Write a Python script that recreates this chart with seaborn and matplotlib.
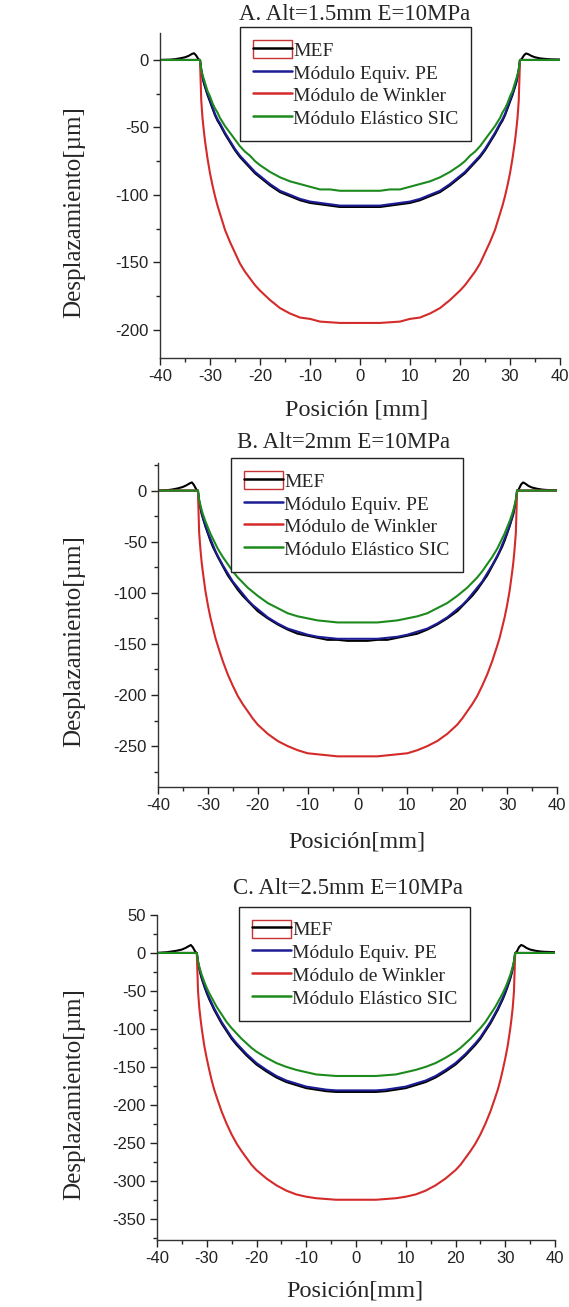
import matplotlib
matplotlib.use("Agg")
import matplotlib.pyplot as plt
import pandas as pd
import seaborn as sns
from matplotlib.patches import Rectangle
from matplotlib.lines import Line2D
from matplotlib.legend_handler import HandlerTuple
from matplotlib.ticker import MultipleLocator

sns.set_style("ticks")
plt.rcParams["font.family"] = ["Liberation Sans", "DejaVu Sans"]
plt.rcParams["axes.unicode_minus"] = False
SERIF = ["Liberation Serif", "DejaVu Serif"]

# ---------------------------------------------------------------- data
# positions [mm] shared by the three analytical models
pos = [-40, -32, -31.75, -31.5, -31.25, -31, -30.5, -30, -29.5, -29, -28.5, -28, -27, -26,
       -25, -24, -23, -22, -21, -20, -18, -16, -14, -12, -10, -8, -6, -4, -2,
       0,
       2, 4, 6, 8, 10, 12, 14, 16, 18, 20, 21, 22, 23, 24, 25,
       26, 27, 28, 28.5, 29, 29.5, 30, 30.5, 31, 31.25, 31.5, 31.75, 32, 40]

# positions [mm] of the finite element (MEF) solution
pos_mef = [-40, -38, -37, -36, -35, -34.3, -33.6, -33.2, -32.8, -32.3,
           -32, -31.75, -31.5, -31.25, -31, -30.5, -30, -29.5, -29, -28.5, -28, -27, -26,
           -25, -24, -23, -22, -21, -20, -18, -16, -14, -12, -10, -8, -6, -4, -2,
           0,
           2, 4, 6, 8, 10, 12, 14, 16, 18, 20, 21, 22, 23, 24, 25,
           26, 27, 28, 28.5, 29, 29.5, 30, 30.5, 31, 31.25, 31.5, 31.75, 32,
           32.3, 32.8, 33.2, 33.6, 34.3, 35, 36, 37, 38, 40]

# A. Alt = 1.5 mm  [µm]
mef_a = [0, 0.2, 0.6, 1.2, 2.0, 3.0, 4.5, 5.0, 3.5, 0.5,
         0, -8, -13, -17, -20, -26, -31, -36, -41, -45, -48, -55, -61,
         -67, -72, -76, -80, -84, -87, -93, -98, -101, -104, -106, -107, -108, -109, -109,
         -109,
         -109, -109, -108, -107, -106, -104, -101, -98, -93, -87, -84, -80, -76, -72, -67,
         -61, -55, -48, -45, -41, -36, -31, -26, -20, -17, -13, -8, 0,
         0.5, 3.5, 4.8, 4.4, 3.0, 2.0, 1.2, 0.8, 0.5, 0.3]
pe_a = [0, 0, -7, -12, -16, -19, -25, -30, -35, -40, -44, -47, -54, -60,
        -66, -71, -75, -79, -83, -86, -92, -97, -100, -103, -105, -106, -107, -108, -108,
        -108,
        -108, -108, -107, -106, -105, -103, -100, -97, -92, -86, -83, -79, -75, -71, -66,
        -60, -54, -47, -44, -40, -35, -30, -25, -19, -16, -12, -7, 0, 0]
wink_a = [0, 0, -30, -43, -52, -60, -73, -84, -93, -101, -108, -114, -126, -135,
          -143, -151, -157, -162, -167, -171, -178, -184, -188, -191, -192, -194, -194.5, -195, -195,
          -195,
          -195, -195, -194.5, -194, -192, -191, -188, -184, -178, -171, -167, -162, -157, -151, -143,
          -135, -126, -114, -108, -101, -93, -84, -73, -60, -52, -43, -30, 0, 0]
sic_a = [0, 0, -7, -11, -14, -17, -23, -27, -32, -36, -39, -43, -49, -54,
         -59, -64, -68, -71, -75, -78, -83, -87, -90, -92, -94, -96, -96, -97, -97,
         -97,
         -97, -97, -96, -96, -94, -92, -90, -87, -83, -78, -75, -71, -68, -64, -59,
         -54, -49, -43, -39, -36, -32, -27, -23, -17, -14, -11, -7, 0, 0]

# B. Alt = 2 mm  [µm]
mef_b = [0, 0.5, 1.2, 2.2, 3.6, 5.2, 7.2, 8.0, 5.5, 1.0,
         0, -11, -17, -23, -27, -35, -42, -49, -55, -60, -65, -74, -83,
         -90, -97, -103, -108, -113, -118, -125, -131, -136, -140, -142, -144, -146, -146, -147,
         -147,
         -147, -146, -146, -144, -142, -140, -136, -131, -125, -118, -113, -108, -103, -97, -90,
         -83, -74, -65, -60, -55, -49, -42, -35, -27, -23, -17, -11, 0,
         1.0, 6.0, 8.0, 7.0, 4.5, 3.0, 1.8, 1.0, 0.6, 0.3]
pe_b = [0, 0, -10, -16, -21, -26, -34, -41, -47, -53, -59, -64, -73, -81,
        -89, -95, -101, -107, -112, -116, -124, -130, -135, -138, -141, -143, -144, -145, -145,
        -145,
        -145, -145, -144, -143, -141, -138, -135, -130, -124, -116, -112, -107, -101, -95, -89,
        -81, -73, -64, -59, -53, -47, -41, -34, -26, -21, -16, -10, 0, 0]
wink_b = [0, 0, -41, -57, -70, -80, -98, -112, -124, -134, -144, -152, -167, -180,
          -191, -201, -209, -216, -223, -229, -238, -245, -250, -254, -257, -258, -259, -260, -260,
          -260,
          -260, -260, -259, -258, -257, -254, -250, -245, -238, -229, -223, -216, -209, -201, -191,
          -180, -167, -152, -144, -134, -124, -112, -98, -80, -70, -57, -41, 0, 0]
sic_b = [0, 0, -9, -14, -19, -23, -30, -36, -42, -47, -52, -57, -65, -72,
         -79, -85, -90, -95, -99, -103, -110, -115, -120, -123, -125, -127, -128, -129, -129,
         -129,
         -129, -129, -128, -127, -125, -123, -120, -115, -110, -103, -99, -95, -90, -85, -79,
         -72, -65, -57, -52, -47, -42, -36, -30, -23, -19, -14, -9, 0, 0]

# C. Alt = 2.5 mm  [µm]
mef_c = [0, 1.0, 2.0, 3.0, 4.5, 6.5, 9.0, 10.5, 7.5, 1.5,
         0, -13, -21, -28, -34, -44, -53, -61, -68, -75, -81, -93, -103,
         -113, -121, -128, -135, -141, -147, -156, -164, -170, -174, -178, -180, -182, -183, -183,
         -183,
         -183, -183, -182, -180, -178, -174, -170, -164, -156, -147, -141, -135, -128, -121, -113,
         -103, -93, -81, -75, -68, -61, -53, -44, -34, -28, -21, -13, 0,
         1.5, 8.0, 10.5, 9.5, 6.5, 4.5, 3.0, 2.0, 1.5, 1.0]
pe_c = [0, 0, -12, -20, -26, -32, -42, -51, -59, -66, -73, -79, -91, -101,
        -111, -119, -126, -133, -139, -145, -154, -162, -168, -172, -176, -178, -180, -181, -181,
        -181,
        -181, -181, -180, -178, -176, -172, -168, -162, -154, -145, -139, -133, -126, -119, -111,
        -101, -91, -79, -73, -66, -59, -51, -42, -32, -26, -20, -12, 0, 0]
wink_c = [0, 0, -51, -72, -87, -100, -122, -139, -154, -168, -180, -190, -209, -225,
          -239, -251, -261, -270, -279, -286, -297, -306, -313, -318, -321, -323, -324, -325, -325,
          -325,
          -325, -325, -324, -323, -321, -318, -313, -306, -297, -286, -279, -270, -261, -251, -239,
          -225, -209, -190, -180, -168, -154, -139, -122, -100, -87, -72, -51, 0, 0]
sic_c = [0, 0, -11, -18, -24, -29, -38, -46, -53, -59, -65, -71, -81, -91,
         -99, -106, -113, -119, -125, -130, -138, -145, -150, -154, -157, -160, -161, -162, -162,
         -162,
         -162, -162, -161, -160, -157, -154, -150, -145, -138, -130, -125, -119, -113, -106, -99,
         -91, -81, -71, -65, -59, -53, -46, -38, -29, -24, -18, -11, 0, 0]

series_names = ["MEF", "Módulo Equiv. PE", "Módulo de Winkler", "Módulo Elástico SIC"]
titles = ["A. Alt=1.5mm E=10MPa", "B. Alt=2mm E=10MPa", "C. Alt=2.5mm E=10MPa"]
xlabels = ["Posición [mm]", "Posición[mm]", "Posición[mm]"]
ylabel = "Desplazamiento[µm]"
xticks = [-40, -30, -20, -10, 0, 10, 20, 30, 40]

# ---------------------------------------------------------------- style
colors = {"MEF": "#000000", "Módulo Equiv. PE": "#1c1c94",
          "Módulo de Winkler": "#d42a2a", "Módulo Elástico SIC": "#1d8a1d"}

W, H = 569, 1307
panels = [
    dict(box=(160, 33, 560, 358), ylim=(-221, 20), yticks=[0, -50, -100, -150, -200],
         data=(mef_a, pe_a, wink_a, sic_a), leg=(0.20, 1.018),
         title_xy=(355, 15), xl_xy=(357, 410)),
    dict(box=(158, 463, 557, 787), ylim=(-290, 27), yticks=[0, -50, -100, -150, -200, -250],
         data=(mef_b, pe_b, wink_b, sic_b), leg=(0.183, 1.015),
         title_xy=(344, 442), xl_xy=(357, 842)),
    dict(box=(157, 915, 555, 1240), ylim=(-378, 50),
         yticks=[50, 0, -50, -100, -150, -200, -250, -300, -350],
         data=(mef_c, pe_c, wink_c, sic_c), leg=(0.206, 1.025),
         title_xy=(348, 889), xl_xy=(355, 1291)),
]

fig = plt.figure(figsize=(W / 100, H / 100), dpi=100)

for i, p in enumerate(panels):
    x0, y0, x1, y1 = p["box"]
    ax = fig.add_axes([x0 / W, 1 - y1 / H, (x1 - x0) / W, (y1 - y0) / H])
    mef, pe, wink, sic = p["data"]
    df = pd.concat([
        pd.DataFrame({"x": pos_mef, "y": mef, "serie": "MEF"}),
        pd.DataFrame({"x": pos, "y": pe, "serie": "Módulo Equiv. PE"}),
        pd.DataFrame({"x": pos, "y": wink, "serie": "Módulo de Winkler"}),
        pd.DataFrame({"x": pos, "y": sic, "serie": "Módulo Elástico SIC"}),
    ], ignore_index=True)
    sns.lineplot(data=df, x="x", y="y", hue="serie", hue_order=series_names,
                 palette=colors, estimator=None, sort=False, linewidth=1.5,
                 legend=False, ax=ax)

    ax.set_xlim(-40, 40)
    ax.set_ylim(*p["ylim"])
    ax.set_xticks(xticks)
    ax.set_yticks(p["yticks"])
    ax.xaxis.set_minor_locator(MultipleLocator(5))
    ax.yaxis.set_minor_locator(MultipleLocator(25))
    ax.tick_params(which="major", direction="out", length=5, width=1,
                   labelsize=12, pad=3, colors="#222222")
    ax.tick_params(which="minor", direction="out", length=3, width=1)
    sns.despine(ax=ax)
    for s in ("left", "bottom"):
        ax.spines[s].set_linewidth(1)
        ax.spines[s].set_color("#333333")

    ax.set_xlabel("")
    ax.set_ylabel(ylabel, family=SERIF, fontsize=18)
    ax.yaxis.set_label_coords((85 - x0) / (x1 - x0), 0.45)

    fig.text(p["xl_xy"][0] / W, 1 - p["xl_xy"][1] / H, xlabels[i],
             family=SERIF, fontsize=17.5, ha="center", va="center")
    fig.text(p["title_xy"][0] / W, 1 - p["title_xy"][1] / H, titles[i],
             family=SERIF, fontsize=16.5, ha="center", va="center")

    handles = [
        (Rectangle((0, 0), 1, 1, facecolor="none", edgecolor="#c83232", linewidth=1),
         Line2D([], [], color=colors["MEF"], linewidth=1.8)),
        Line2D([], [], color=colors["Módulo Equiv. PE"], linewidth=1.8),
        Line2D([], [], color=colors["Módulo de Winkler"], linewidth=1.8),
        Line2D([], [], color=colors["Módulo Elástico SIC"], linewidth=1.8),
    ]
    leg = ax.legend(handles, series_names, loc="upper left",
                    bbox_to_anchor=p["leg"], borderaxespad=0,
                    handler_map={tuple: HandlerTuple(ndivide=1, pad=0)},
                    prop={"family": SERIF, "size": 14}, frameon=True,
                    fancybox=False, edgecolor="#222222", framealpha=1,
                    handlelength=2.0, handleheight=1.1, handletextpad=0.1,
                    labelspacing=0.15, borderpad=0.65)
    leg.get_frame().set_linewidth(1)

fig.savefig("out.png", dpi=100)
